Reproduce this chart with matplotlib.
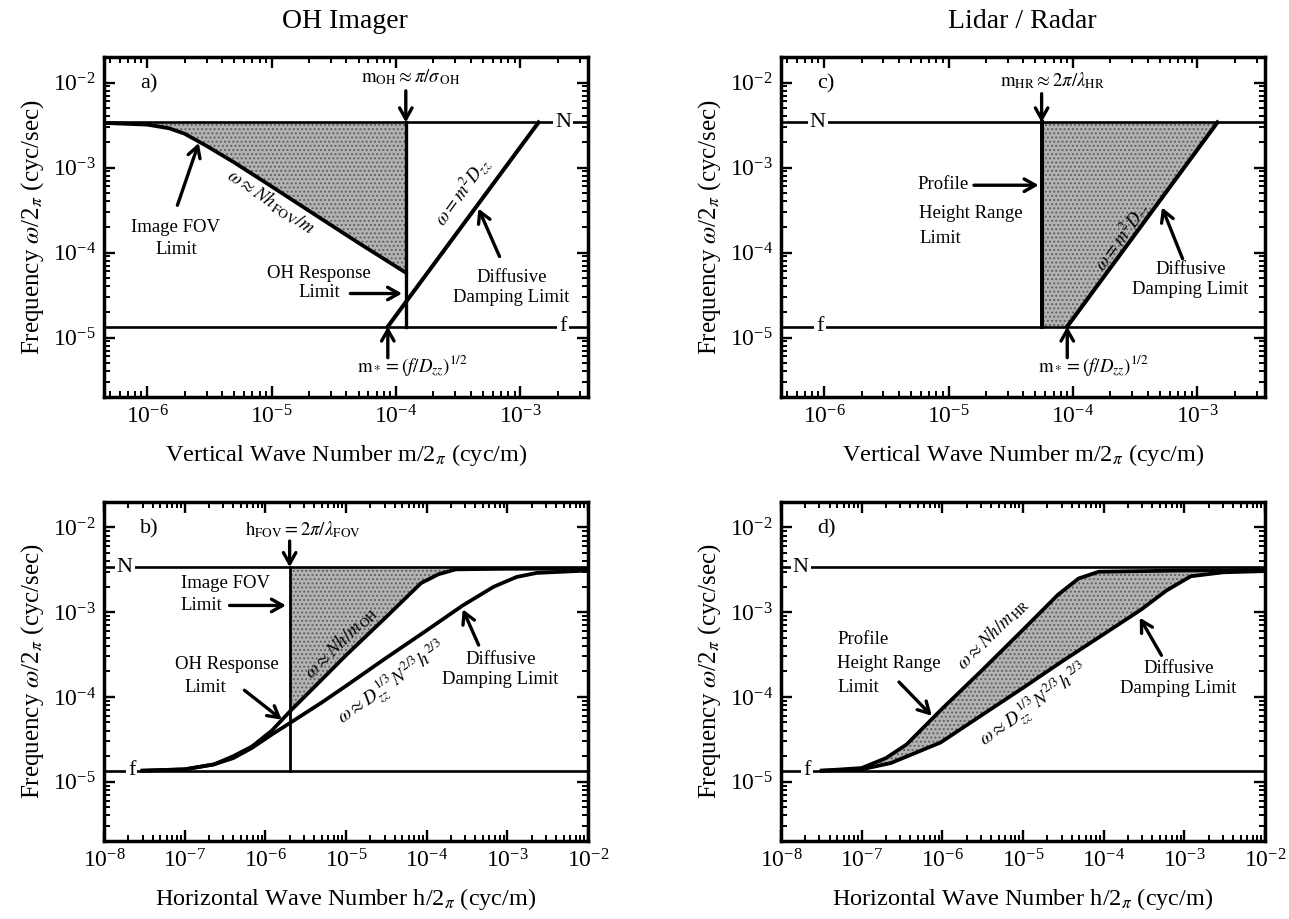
import numpy as np
import matplotlib
matplotlib.use("Agg")
import matplotlib.pyplot as plt
from matplotlib.ticker import LogLocator, LogFormatterSciNotation, NullFormatter

plt.rcParams['font.family'] = ['Liberation Serif', 'DejaVu Serif']
plt.rcParams['mathtext.fontset'] = 'stix'
plt.rcParams['hatch.linewidth'] = 0.9

# bounding frequencies (cyc/sec)
N_freq = 3.4e-3
f_freq = 1.35e-5

# panel a) OH imager, vertical wave number
a_fov_m = [4.5e-7, 1e-6, 1.5e-6, 2e-6, 3e-6, 5e-6, 1e-5, 2e-5, 5e-5, 1.2e-4]
a_fov_w = [3.35e-3, 3.2e-3, 2.9e-3, 2.5e-3, 1.8e-3, 1.15e-3, 6e-4, 3.1e-4, 1.3e-4, 5.8e-5]
a_m_oh = 1.2e-4
a_diff_m = [8.6e-5, 1.4e-3]
a_diff_w = [f_freq, N_freq]

# panel c) lidar / radar, vertical wave number
c_m_hr = 5.6e-5
c_diff_m = [9e-5, 1.45e-3]
c_diff_w = [f_freq, N_freq]

# panel b) OH imager, horizontal wave number
b_h_fov = 2e-6
b_up_h = [3e-8, 1e-7, 2.3e-7, 4e-7, 6.8e-7, 1.2e-6, 2e-6, 5e-6, 1e-5, 3e-5, 8.5e-5, 1.4e-4, 2.3e-4, 1e-3, 1e-2]
b_up_w = [1.35e-5, 1.4e-5, 1.6e-5, 2e-5, 2.6e-5, 4e-5, 6.7e-5, 1.6e-4, 3.1e-4, 8.4e-4, 2.2e-3, 2.8e-3, 3.2e-3, 3.25e-3, 3.25e-3]
b_lo_h = [3e-8, 1e-7, 2.3e-7, 4e-7, 6.8e-7, 1.2e-6, 2e-6, 5e-6, 1e-5, 3e-5, 1e-4, 2.8e-4, 6.8e-4, 1.3e-3, 2.3e-3, 1e-2]
b_lo_w = [1.35e-5, 1.4e-5, 1.6e-5, 1.9e-5, 2.5e-5, 3.6e-5, 4.9e-5, 8.6e-5, 1.35e-4, 2.8e-4, 6.1e-4, 1.2e-3, 2e-3, 2.6e-3, 2.9e-3, 3.1e-3]

# panel d) lidar / radar, horizontal wave number
d_up_h = [3.2e-8, 1e-7, 2e-7, 3.6e-7, 1e-6, 3e-6, 1e-5, 2.7e-5, 4.9e-5, 8.7e-5, 1e-3, 1e-2]
d_up_w = [1.35e-5, 1.45e-5, 1.9e-5, 2.75e-5, 7.3e-5, 2e-4, 6.2e-4, 1.6e-3, 2.5e-3, 3e-3, 3.1e-3, 3.15e-3]
d_lo_h = [3.2e-8, 1e-7, 2.3e-7, 9.5e-7, 3e-6, 1e-5, 3e-5, 1e-4, 2.9e-4, 6e-4, 1.2e-3, 3e-3, 1e-2]
d_lo_w = [1.35e-5, 1.4e-5, 1.66e-5, 2.9e-5, 6e-5, 1.28e-4, 2.6e-4, 5.5e-4, 1.07e-3, 1.8e-3, 2.65e-3, 2.95e-3, 3.05e-3]

vert_lim = (4.5e-7, 3.5e-3)
horiz_lim = (1e-8, 1e-2)
freq_lim = (2e-6, 2e-2)

shade = dict(facecolor='#b2b2b2', edgecolor='#5e5e5e', hatch='....', linewidth=0, zorder=1)
arrow = dict(arrowstyle='->,head_length=0.8,head_width=0.45', lw=2.4, color='k',
             shrinkA=0, shrinkB=0)
fs_note = 13.5


def setup(ax, xlim, xlabel, tag):
    ax.set_xscale('log')
    ax.set_yscale('log')
    ax.set_xlim(*xlim)
    ax.set_ylim(*freq_lim)
    for axis in (ax.xaxis, ax.yaxis):
        axis.set_major_locator(LogLocator(base=10, numticks=20))
        axis.set_minor_locator(LogLocator(base=10, subs=np.arange(2, 10), numticks=50))
        axis.set_major_formatter(LogFormatterSciNotation())
        axis.set_minor_formatter(NullFormatter())
    ax.tick_params(which='both', direction='in', top=True, right=True, labelsize=17)
    ax.tick_params(which='major', length=8, width=1.7, pad=6)
    ax.tick_params(which='minor', length=4, width=1.4)
    for sp in ax.spines.values():
        sp.set_linewidth(2.5)
    ax.set_xlabel(xlabel, fontsize=17.5, labelpad=10)
    ax.set_ylabel(r'Frequency $\omega$/2$_{\pi}$ (cyc/sec)', fontsize=18, labelpad=5)
    ax.text(0.075, 0.92, tag, transform=ax.transAxes, fontsize=16, va='center')
    ax.axhline(N_freq, color='k', lw=1.9, zorder=2)
    ax.axhline(f_freq, color='k', lw=1.9, zorder=2)


def label_nf(ax, xn, xf, bg=True):
    box = dict(facecolor='white', edgecolor='none', pad=1.5) if bg else None
    ax.text(xn, N_freq, 'N', fontsize=16, ha='center', va='center', bbox=box, zorder=4)
    ax.text(xf, f_freq, 'f', fontsize=16, ha='center', va='center', bbox=box, zorder=4)


def note(ax, x, y, s, **kw):
    kw.setdefault('ha', 'center')
    ax.text(x, y, s, fontsize=fs_note, va='center', zorder=5, **kw)


fig = plt.figure(figsize=(12.89, 9.19), dpi=100)
ax_a = fig.add_axes([0.0807, 0.568, 0.3755, 0.370])
ax_b = fig.add_axes([0.0807, 0.0849, 0.3755, 0.369])
ax_c = fig.add_axes([0.6059, 0.568, 0.3755, 0.370])
ax_d = fig.add_axes([0.6059, 0.0849, 0.3755, 0.369])

vlabel = r'Vertical Wave Number m/2$_{\pi}$ (cyc/m)'
hlabel = r'Horizontal Wave Number h/2$_{\pi}$ (cyc/m)'

fig.text(345 / 1289, 1 - 22 / 919, 'OH Imager', ha='center', va='center', fontsize=20)
fig.text(1022 / 1289, 1 - 22 / 919, 'Lidar / Radar', ha='center', va='center', fontsize=20)

# ---- a)
ax = ax_a
setup(ax, vert_lim, vlabel, 'a)')
ax.fill_between(a_fov_m, a_fov_w, N_freq, **shade)
ax.plot(a_fov_m, a_fov_w, color='k', lw=2.7, zorder=3)
ax.plot([a_m_oh, a_m_oh], [f_freq, N_freq], color='k', lw=2.4, zorder=3)
ax.plot(a_diff_m, a_diff_w, color='k', lw=2.9, zorder=3)
label_nf(ax, 2.2e-3, 2.2e-3)
note(ax, 1.3e-4, 1.15e-2, r'$\mathrm{m_{OH}} \approx \pi/\sigma_{\,\mathrm{OH}}$')
ax.annotate('', xy=(a_m_oh, N_freq), xytext=(a_m_oh, 8.0e-3), arrowprops=arrow)
note(ax, 1.7e-6, 1.45e-4, 'Image FOV\nLimit', linespacing=1.4)
ax.annotate('', xy=(2.6e-6, 1.95e-3), xytext=(1.75e-6, 3.6e-4), arrowprops=arrow)
note(ax, 1.0e-5, 4.0e-4, r'$\omega \approx Nh_{\,\mathrm{FOV}}/m$', rotation=-34, rotation_mode='anchor')
note(ax, 2.4e-5, 4.4e-5, 'OH Response\nLimit', linespacing=1.2)
ax.annotate('', xy=(1.12e-4, 3.3e-5), xytext=(4.3e-5, 3.3e-5), arrowprops=arrow)
note(ax, 3.4e-4, 5.2e-4, r'$\omega = m^2 D_{zz}$', rotation=54, rotation_mode='anchor')
note(ax, 8.5e-4, 3.9e-5, 'Diffusive\nDamping Limit', linespacing=1.2)
ax.annotate('', xy=(4.6e-4, 3.3e-4), xytext=(6.8e-4, 9e-5), arrowprops=arrow)
note(ax, 1.35e-4, 4.6e-6, r'$\mathrm{m}_* = (f/D_{zz})^{1/2}$')
ax.annotate('', xy=(a_diff_m[0], f_freq), xytext=(a_diff_m[0], 5.8e-6), arrowprops=arrow)

# ---- c)
ax = ax_c
setup(ax, vert_lim, vlabel, 'c)')
ax.fill([c_m_hr, c_m_hr, c_diff_m[1], c_diff_m[0]],
        [f_freq, N_freq, c_diff_w[1], c_diff_w[0]], **shade)
ax.plot([c_m_hr, c_m_hr], [f_freq, N_freq], color='k', lw=2.9, zorder=3)
ax.plot(c_diff_m, c_diff_w, color='k', lw=2.9, zorder=3)
label_nf(ax, 8.9e-7, 9.3e-7)
note(ax, 6.8e-5, 1.05e-2, r'$\mathrm{m_{HR}} \approx 2\pi/\lambda_{\mathrm{HR}}$')
ax.annotate('', xy=(c_m_hr, N_freq), xytext=(c_m_hr, 7.4e-3), arrowprops=arrow)
note(ax, 5.6e-6, 6.4e-4, 'Profile', ha='left')
note(ax, 5.8e-6, 2.9e-4, 'Height Range', ha='left')
note(ax, 5.8e-6, 1.45e-4, 'Limit', ha='left')
ax.annotate('', xy=(5.3e-5, 6.2e-4), xytext=(1.6e-5, 6.2e-4), arrowprops=arrow)
note(ax, 2.5e-4, 1.55e-4, r'$\omega = m^2 D_{zz}$', rotation=54, rotation_mode='anchor')
note(ax, 8.8e-4, 4.8e-5, 'Diffusive\nDamping Limit', linespacing=1.2)
ax.annotate('', xy=(5.2e-4, 3.4e-4), xytext=(7.6e-4, 8.5e-5), arrowprops=arrow)
note(ax, 1.45e-4, 4.6e-6, r'$\mathrm{m}_* = (f/D_{zz})^{1/2}$')
ax.annotate('', xy=(c_diff_m[0], f_freq), xytext=(c_diff_m[0], 5.8e-6), arrowprops=arrow)

# ---- b)
ax = ax_b
setup(ax, horiz_lim, hlabel, 'b)')
bh = np.array(b_up_h)
bw = np.array(b_up_w)
ax.fill_between(bh, bw, N_freq, where=bh >= b_h_fov, **shade)
ax.plot(b_up_h, b_up_w, color='k', lw=2.7, zorder=3)
ax.plot(b_lo_h, b_lo_w, color='k', lw=2.7, zorder=3)
ax.plot([b_h_fov, b_h_fov], [f_freq, N_freq], color='k', lw=2.0, zorder=3)
label_nf(ax, 1.8e-8, 2.2e-8)
note(ax, 2.9e-6, 9.5e-3, r'$\mathrm{h_{FOV}} = 2\pi/\lambda_{\mathrm{FOV}}$')
ax.annotate('', xy=(b_h_fov, N_freq), xytext=(b_h_fov, 6.9e-3), arrowprops=arrow)
note(ax, 3.2e-7, 2.2e-3, 'Image FOV')
note(ax, 1.6e-7, 1.2e-3, 'Limit')
ax.annotate('', xy=(1.8e-6, 1.2e-3), xytext=(3.6e-7, 1.2e-3), arrowprops=arrow)
note(ax, 3.3e-7, 2.4e-4, 'OH Response')
note(ax, 1.8e-7, 1.3e-4, 'Limit')
ax.annotate('', xy=(1.6e-6, 5.4e-5), xytext=(5.5e-7, 1.2e-4), arrowprops=arrow)
note(ax, 8.5e-6, 4.4e-4, r'$\omega \approx Nh/m_{\,\mathrm{OH}}$', rotation=45, rotation_mode='anchor')
note(ax, 3.8e-5, 1.45e-4, r'$\omega \approx D_{zz}^{\,1/3} N^{2/3} h^{2/3}$', rotation=35, rotation_mode='anchor')
note(ax, 8.2e-4, 2.1e-4, 'Diffusive\nDamping Limit', linespacing=1.2)
ax.annotate('', xy=(2.8e-4, 1.08e-3), xytext=(4.4e-4, 4.1e-4), arrowprops=arrow)

# ---- d)
ax = ax_d
setup(ax, horiz_lim, hlabel, 'd)')
ax.fill(d_up_h + d_lo_h[::-1], d_up_w + d_lo_w[::-1], **shade)
ax.plot(d_up_h, d_up_w, color='k', lw=2.7, zorder=3)
ax.plot(d_lo_h, d_lo_w, color='k', lw=2.7, zorder=3)
label_nf(ax, 1.75e-8, 2.1e-8)
note(ax, 5e-8, 4.7e-4, 'Profile', ha='left')
note(ax, 5e-8, 2.5e-4, 'Height Range', ha='left')
note(ax, 5e-8, 1.3e-4, 'Limit', ha='left')
ax.annotate('', xy=(7.4e-7, 6e-5), xytext=(2.9e-7, 1.5e-4), arrowprops=arrow)
note(ax, 4.2e-6, 5.6e-4, r'$\omega \approx Nh/m_{\,\mathrm{HR}}$', rotation=45, rotation_mode='anchor')
note(ax, 1.4e-5, 7.8e-5, r'$\omega \approx D_{zz}^{\,1/3} N^{2/3} h^{2/3}$', rotation=35, rotation_mode='anchor')
note(ax, 8.5e-4, 1.65e-4, 'Diffusive\nDamping Limit', linespacing=1.2)
ax.annotate('', xy=(2.8e-4, 8.6e-4), xytext=(5.2e-4, 3.1e-4), arrowprops=arrow)

fig.savefig('out.png', dpi=100)
